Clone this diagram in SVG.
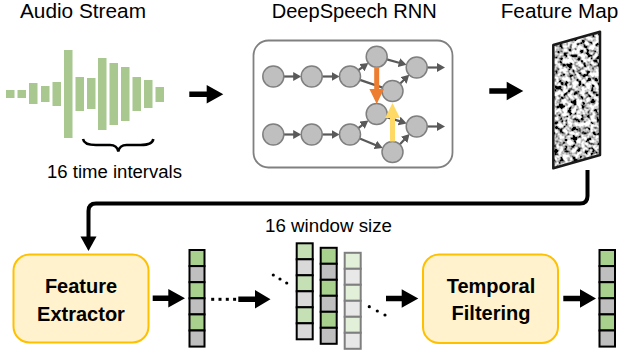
<svg xmlns="http://www.w3.org/2000/svg" width="624" height="356" viewBox="0 0 624 356">
<defs>
<style>
.title{font-family:"Liberation Sans",Arial,sans-serif;font-size:20.5px;fill:#000}
.lbl{font-family:"Liberation Sans",Arial,sans-serif;font-size:17.5px;fill:#000}
.bold{font-family:"Liberation Sans",Arial,sans-serif;font-size:20px;font-weight:bold;fill:#000;text-anchor:middle}
.bar{fill:#a8c88f}
.nd{fill:#bfbfbf;stroke:#7f7f7f;stroke-width:1.5}
.ln{stroke:#595959;stroke-width:2.2;fill:none}
.ar{stroke:#595959;stroke-width:2.2;fill:none;marker-end:url(#ah)}
.box{fill:#fff2cc;stroke:#ffc000;stroke-width:2}
.blk{fill:#000}
.g1{fill:#a9d18e;stroke:#000;stroke-width:2}
.y1{fill:#bfbfbf;stroke:#000;stroke-width:2}
.g2{fill:#c5e0b4;stroke:#000;stroke-width:2}
.y2{fill:#d9d9d9;stroke:#000;stroke-width:2}
.g3{fill:#e2f0d9;stroke:#7f7f7f;stroke-width:2}
.y3{fill:#e8e8e8;stroke:#7f7f7f;stroke-width:2}
</style>
<marker id="ah" markerUnits="userSpaceOnUse" markerWidth="9" markerHeight="9" refX="2" refY="4.5" orient="auto">
<path d="M0,0 L8,4.5 L0,9 z" fill="#595959"/>
</marker>
<filter id="noise" filterUnits="userSpaceOnUse" x="550" y="28" width="54" height="144">
<feTurbulence type="fractalNoise" baseFrequency="0.22" numOctaves="2" seed="7" result="t"/>
<feColorMatrix in="t" type="matrix" values="3.4 0 0 0 -1.15  3.4 0 0 0 -1.15  3.4 0 0 0 -1.15  0 0 0 0 1" result="g"/>
<feComposite in="g" in2="SourceGraphic" operator="in"/>
</filter>
</defs>
<rect width="624" height="356" fill="#fff"/>

<g id="audio-stream">
<text class="title" x="20" y="18" textLength="126" lengthAdjust="spacingAndGlyphs">Audio Stream</text>
<rect class="bar" x="6" y="90" width="8.5" height="8"/>
<rect class="bar" x="17.5" y="90" width="8.5" height="8"/>
<rect class="bar" x="29" y="83" width="8.5" height="21"/>
<rect class="bar" x="41" y="86" width="8.5" height="16"/>
<rect class="bar" x="52.5" y="82" width="8.5" height="24"/>
<rect class="bar" x="64" y="50" width="8.5" height="88"/>
<rect class="bar" x="75.5" y="77" width="8.5" height="34"/>
<rect class="bar" x="87" y="78" width="8.5" height="31"/>
<rect class="bar" x="98" y="58" width="8.5" height="72"/>
<rect class="bar" x="109.5" y="63" width="8.5" height="62"/>
<rect class="bar" x="121" y="67" width="8.5" height="54"/>
<rect class="bar" x="132.5" y="77" width="8.5" height="34"/>
<rect class="bar" x="144" y="80" width="8.5" height="28"/>
<rect class="bar" x="155.5" y="87" width="8.5" height="15"/>
<path d="M83 139 Q84 145 96 145 L110 145 Q117 145 118.3 151.5 Q119.6 145 126.6 145 L140.6 145 Q152.6 145 153.3 139" fill="none" stroke="#000" stroke-width="2.5"/>
<text class="lbl" x="47" y="177.5" textLength="135" lengthAdjust="spacingAndGlyphs">16 time intervals</text>
</g>

<g id="deepspeech-rnn">
<text class="title" x="271.7" y="18" textLength="165" lengthAdjust="spacingAndGlyphs">DeepSpeech RNN</text>
<rect x="253.5" y="40.5" width="199" height="127" rx="15" fill="#fff" stroke="#808080" stroke-width="1.8"/>
<line class="ar" x1="283.8" y1="76.5" x2="295.2" y2="76.5"/>
<line class="ar" x1="322.2" y1="76.5" x2="333.5" y2="76.5"/>
<line class="ar" x1="358.4" y1="70.2" x2="363.5" y2="66.5"/>
<line class="ar" x1="386.8" y1="59.4" x2="400.8" y2="63.2"/>
<line class="ln" x1="359.9" y1="79.9" x2="382.6" y2="87.6"/>
<line class="ar" x1="400" y1="83.7" x2="404.9" y2="79"/>
<line class="ar" x1="427.2" y1="67.5" x2="439" y2="67.5"/>
<line class="ar" x1="283.8" y1="134.5" x2="295.2" y2="134.5"/>
<line class="ar" x1="322.2" y1="134.5" x2="333.5" y2="134.5"/>
<line class="ar" x1="358.3" y1="128.1" x2="363.6" y2="124.05"/>
<line class="ar" x1="359.7" y1="138.5" x2="377.2" y2="145.7"/>
<line class="ar" x1="386.7" y1="117.1" x2="401" y2="121.6"/>
<line class="ar" x1="399.7" y1="144.4" x2="405.4" y2="138.4"/>
<line class="ar" x1="427.2" y1="126.5" x2="439" y2="126.5"/>
<circle class="nd" cx="273.3" cy="76.5" r="10.5"/>
<circle class="nd" cx="311.7" cy="76.5" r="10.5"/>
<circle class="nd" cx="350" cy="76.5" r="10.5"/>
<circle class="nd" cx="376.7" cy="56.7" r="10.5"/>
<circle class="nd" cx="416.7" cy="67.5" r="10.5"/>
<circle class="nd" cx="392.5" cy="91" r="10.5"/>
<circle class="nd" cx="273.3" cy="134.5" r="10.5"/>
<circle class="nd" cx="311.7" cy="134.5" r="10.5"/>
<circle class="nd" cx="350" cy="134.5" r="10.5"/>
<circle class="nd" cx="376.7" cy="114" r="10.5"/>
<circle class="nd" cx="416.7" cy="126.5" r="10.5"/>
<circle class="nd" cx="392.5" cy="152" r="10.5"/>
<path d="M374.2 67 H379.2 V89 H384 L376.7 104 L369.4 89 H374.2 Z" fill="#ed7d31"/>
<path d="M390 141.5 H395 V118 H400 L392.5 103 L385 118 H390 Z" fill="#ffd966"/>
</g>

<g id="feature-map">
<text class="title" x="500.7" y="18" textLength="117.6" lengthAdjust="spacingAndGlyphs">Feature Map</text>
<polygon points="553.3,45 600,31.7 600,155 553.3,168.3" fill="#fff" filter="url(#noise)"/>
<polygon points="553.3,45 600,31.7 600,155 553.3,168.3" fill="none" stroke="#1a1a1a" stroke-width="2.5" stroke-linejoin="round"/>
</g>

<g id="feature-extractor">
<rect class="box" x="13.5" y="254.5" width="135" height="88" rx="16"/>
<text class="bold" x="81" y="293">Feature</text>
<text class="bold" x="81" y="320.5">Extractor</text>
</g>

<g id="feature-vector">
<rect class="g1" x="189.5" y="250" width="15" height="16.1"/>
<rect class="y1" x="189.5" y="266.1" width="15" height="16.1"/>
<rect class="g1" x="189.5" y="282.2" width="15" height="16.1"/>
<rect class="y1" x="189.5" y="298.3" width="15" height="16.1"/>
<rect class="g1" x="189.5" y="314.4" width="15" height="16.1"/>
<rect class="y1" x="189.5" y="330.5" width="15" height="16.1"/>
</g>

<g id="window">
<text class="lbl" x="265" y="232" textLength="127" lengthAdjust="spacingAndGlyphs">16 window size</text>
<g id="window-col-1">
<rect class="g2" x="296.7" y="243.3" width="16" height="16"/>
<rect class="y2" x="296.7" y="259.3" width="16" height="16"/>
<rect class="g2" x="296.7" y="275.3" width="16" height="16"/>
<rect class="y2" x="296.7" y="291.3" width="16" height="16"/>
<rect class="g2" x="296.7" y="307.3" width="16" height="16"/>
<rect class="y2" x="296.7" y="323.3" width="16" height="16"/>
</g>
<g id="window-col-2">
<rect class="g1" x="320.7" y="247.8" width="16" height="16"/>
<rect class="y1" x="320.7" y="263.8" width="16" height="16"/>
<rect class="g1" x="320.7" y="279.8" width="16" height="16"/>
<rect class="y1" x="320.7" y="295.8" width="16" height="16"/>
<rect class="g1" x="320.7" y="311.8" width="16" height="16"/>
<rect class="y1" x="320.7" y="327.8" width="16" height="16"/>
</g>
<g id="window-col-3">
<rect class="g3" x="344.7" y="252.8" width="16" height="16"/>
<rect class="y3" x="344.7" y="268.8" width="16" height="16"/>
<rect class="g3" x="344.7" y="284.8" width="16" height="16"/>
<rect class="y3" x="344.7" y="300.8" width="16" height="16"/>
<rect class="g3" x="344.7" y="316.8" width="16" height="16"/>
<rect class="y3" x="344.7" y="332.8" width="16" height="16"/>
</g>
<circle cx="273.3" cy="275" r="1.6"/>
<circle cx="280" cy="279" r="1.6"/>
<circle cx="286.7" cy="283" r="1.6"/>
<circle cx="369.3" cy="306.7" r="1.6"/>
<circle cx="377.3" cy="311" r="1.6"/>
<circle cx="385" cy="315" r="1.6"/>
</g>

<g id="temporal-filtering">
<rect class="box" x="423" y="254.5" width="135" height="88.5" rx="16"/>
<text class="bold" x="491" y="292.7">Temporal</text>
<text class="bold" x="491" y="320.3">Filtering</text>
</g>

<g id="output-vector">
<rect class="g1" x="599.5" y="250" width="15.5" height="16.1"/>
<rect class="y1" x="599.5" y="266.1" width="15.5" height="16.1"/>
<rect class="g1" x="599.5" y="282.2" width="15.5" height="16.1"/>
<rect class="y1" x="599.5" y="298.3" width="15.5" height="16.1"/>
<rect class="g1" x="599.5" y="314.4" width="15.5" height="16.1"/>
<rect class="y1" x="599.5" y="330.5" width="15.5" height="16.1"/>
</g>

<g id="connectors">
<path class="blk" d="M189.3 91.5 H206.7 V85 L223.3 94.3 L206.7 103.6 V97.1 H189.3 Z"/>
<path class="blk" d="M489.3 88.2 H506.7 V81.7 L523.3 91 L506.7 100.3 V93.8 H489.3 Z"/>
<path d="M587.5 170 V196 Q587.5 203.5 580 203.5 H96 Q88.5 203.5 88.5 211 V238" fill="none" stroke="#000" stroke-width="4"/>
<path class="blk" d="M80.5 236.5 H96.5 L88.5 251 Z"/>
<path class="blk" d="M152.7 295.5 H168.3 V289 L185 298.3 L168.3 307.6 V301.1 H152.7 Z"/>
<rect x="211.2" y="297.8" width="3" height="3"/>
<rect x="218.5" y="297.8" width="3" height="3"/>
<rect x="225.8" y="297.8" width="3" height="3"/>
<rect x="233.1" y="297.8" width="3" height="3"/>
<path class="blk" d="M238.3 296.5 H255 V290 L270.5 299.3 L255 308.6 V302.1 H238.3 Z"/>
<path class="blk" d="M386 295.7 H401.7 V289.3 L418.3 298.5 L401.7 307.7 V301.3 H386 Z"/>
<path class="blk" d="M563.3 295.7 H580 V289.3 L596 298.5 L580 307.7 V301.3 H563.3 Z"/>
</g>
</svg>
